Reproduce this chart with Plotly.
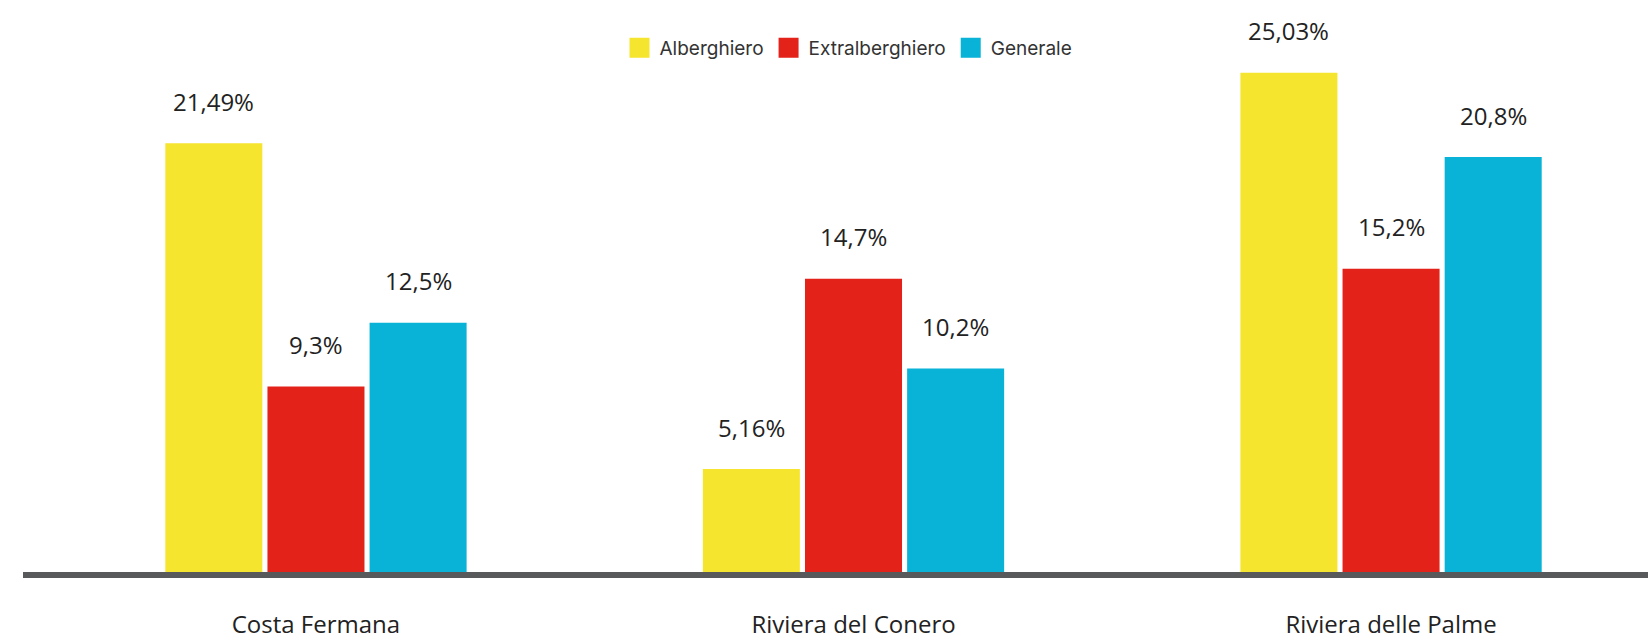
import plotly.graph_objects as go

categories = ["Costa Fermana", "Riviera del Conero", "Riviera delle Palme"]
series_names = ["Alberghiero", "Extralberghiero", "Generale"]
alberghiero = [21.49, 5.16, 25.03]
extralberghiero = [9.3, 14.7, 15.2]
generale = [12.5, 10.2, 20.8]
labels_alberghiero = ["21,49%", "5,16%", "25,03%"]
labels_extralberghiero = ["9,3%", "14,7%", "15,2%"]
labels_generale = ["12,5%", "10,2%", "20,8%"]

colors = ["#F6E52F", "#E3221A", "#08B3D7"]
values = [alberghiero, extralberghiero, generale]
labels = [labels_alberghiero, labels_extralberghiero, labels_generale]

BARGAP = 0.43
BARGROUPGAP = 0.05

fig = go.Figure()
for name, vals, col in zip(series_names, values, colors):
    fig.add_trace(go.Bar(x=categories, y=vals, name=name, marker_color=col,
                         marker_line_width=0, showlegend=False, hoverinfo="skip"))
# legend entries with large square swatches
for name, col in zip(series_names, colors):
    fig.add_trace(go.Scatter(x=[None], y=[None], mode="markers", name=name,
                             marker=dict(symbol="square", size=16, color=col,
                                         line=dict(color=col, width=4))))

slot = (1 - BARGAP) / len(series_names)
annotations = []
for k, (vals, labs) in enumerate(zip(values, labels)):
    off = (k - (len(series_names) - 1) / 2) * slot
    for i, (v, t) in enumerate(zip(vals, labs)):
        annotations.append(dict(x=i + off, y=v, xref="x", yref="y", text=t,
                                showarrow=False, yanchor="middle", yshift=42,
                                font=dict(family="Open Sans", size=24, color="#222222")))

fig.update_layout(
    width=1648, height=643,
    margin=dict(l=23, r=0, t=22, b=71),
    paper_bgcolor="white", plot_bgcolor="white",
    barmode="group", bargap=BARGAP, bargroupgap=BARGROUPGAP,
    annotations=annotations,
    legend=dict(orientation="h", x=0.508, xanchor="center", y=0.953, yanchor="middle",
                font=dict(family="Inter", size=19, color="#333333"),
                bgcolor="rgba(0,0,0,0)"),
    xaxis=dict(type="category", range=[-0.545, 2.478], showline=True, linewidth=6,
               linecolor="#58595B", showgrid=False, ticks="", ticklabelstandoff=26,
               automargin=False,
               tickfont=dict(family="Open Sans", size=24, color="#222222")),
    yaxis=dict(range=[0, 27.57], visible=False, showgrid=False, zeroline=False,
               automargin=False),
)

fig.write_html("out.html", config={"displayModeBar": False},
               post_script="document.body.style.margin='0';document.body.style.overflow='hidden';")
